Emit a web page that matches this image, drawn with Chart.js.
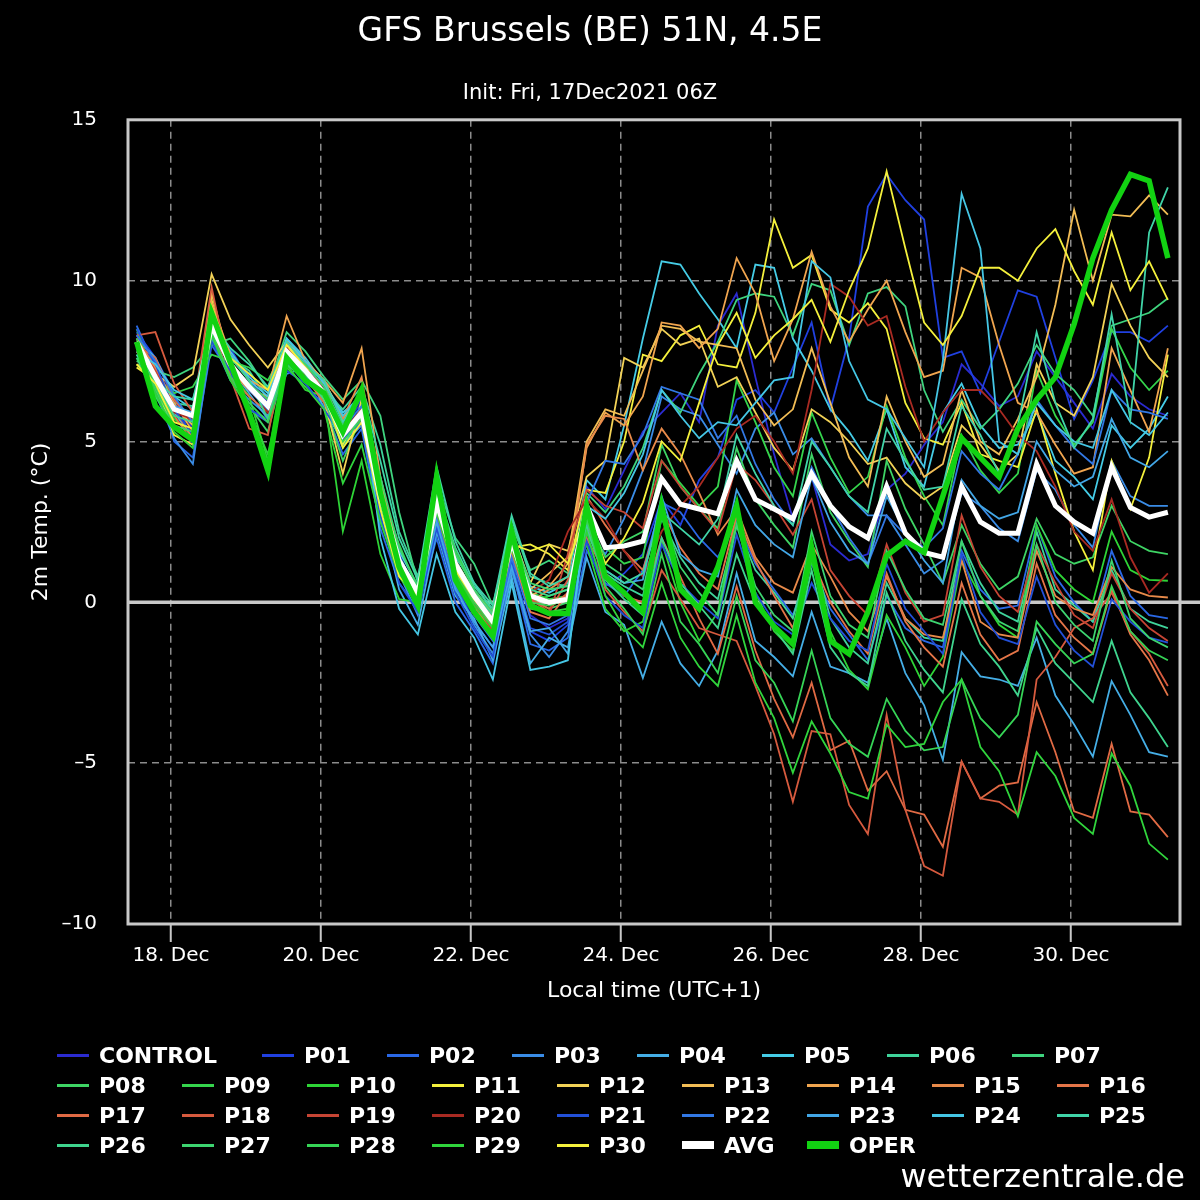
<!DOCTYPE html>
<html>
<head>
<meta charset="utf-8">
<title>GFS Brussels ensemble</title>
<script src="https://cdn.jsdelivr.net/npm/chart.js@4.4.0/dist/chart.umd.min.js"></script>
<style>
  body { margin: 0; background: #000; }
  #wrap { position: relative; width: 1200px; height: 1200px; background: #000; }
  #legend { position: absolute; left: 57px; top: 1040px; width: 1150px; display: flex; flex-wrap: wrap;
            font: bold 22px 'DejaVu Sans', sans-serif; color: #fff; }
  .item { display: flex; align-items: center; height: 30px; width: 125px; }
  .item .mark { width: 32px; height: 3px; margin-right: 10px; }
  #credit { position: absolute; right: 15px; top: 1157px; font: 32px 'DejaVu Sans', sans-serif; color: #fff; }
</style>
</head>
<body>
<div id="wrap">
  <canvas id="myChart" width="1200" height="1200"></canvas>
  <div id="legend"></div>
  <div id="credit">wetterzentrale.de</div>
</div>
<script>
// hours after 18 Dec 00:00 local time (UTC+1), 6-hourly steps
const validHours = [-11, -5, 1, 7, 13, 19, 25, 31, 37, 43, 49, 55, 61, 67, 73, 79, 85, 91, 97, 103,
  109, 115, 121, 127, 133, 139, 145, 151, 157, 163, 169, 175, 181, 187, 193, 199, 205, 211, 217, 223,
  229, 235, 241, 247, 253, 259, 265, 271, 277, 283, 289, 295, 301, 307, 313, 319];
const tickHours = [0, 48, 96, 144, 192, 240, 288];

const control = [8.3, 7.3, 6.3, 5.4, 8.2, 7.7, 7.1, 6.0, 7.6, 7.5, 6.4, 5.5, 6.2, 3.4, 1.2, 0.1, 2.9, 0.9, -0.2, -1.0, 1.6, -0.4, -0.8, -0.5,
  3.6, 2.9, 4.1, 5.3, 5.9, 6.5, 5.6, 8.6, 9.6, 7.0, 4.6, 2.6, 3.9, 1.8, 1.3, 1.5, 3.5, 4.0, 4.9, 5.6, 7.4, 6.8, 6.1, 6.4, 7.8, 7.0, 6.2, 5.4, 7.1, 6.4, 6.0, 5.8];
const p01 = [8.4, 7.6, 6.5, 4.9, 8.3, 7.9, 6.9, 6.2, 7.4, 7.0, 6.9, 5.6, 6.3, 3.9, 1.5, 0.2, 2.4, 0.6, -0.6, -1.4, 1.3, -0.9, -1.2, -0.7,
  2.0, 0.5, 0.9, 1.5, 3.2, 2.4, 3.8, 4.5, 6.3, 6.6, 5.9, 7.3, 8.7, 6.0, 8.2, 12.3, 13.3, 12.5, 11.9, 7.6, 7.8, 6.5, 8.1, 9.7, 9.5, 7.6, 5.7, 6.9, 8.4, 8.4, 8.1, 8.6];
const p02 = [8.6, 7.3, 5.0, 4.5, 8.0, 7.1, 6.0, 5.6, 7.5, 6.8, 6.1, 4.6, 5.4, 2.3, 0.6, -0.2, 2.0, 0.0, -0.9, -1.9, 1.1, -1.3, -1.5, -1.1,
  1.6, 0.6, 0.2, 1.0, 3.1, 2.8, 2.0, 1.4, 2.5, 1.2, 0.4, -0.4, 1.2, -0.2, -1.0, -1.8, 0.2, -0.8, -1.2, -1.4, 1.6, 0.4, -0.2, -0.1, 2.4, 0.8, 0.0, -0.6, 1.6, 0.2, -0.4, -0.5];
const p03 = [7.9, 6.5, 5.1, 4.3, 8.2, 6.9, 6.3, 5.8, 7.1, 7.3, 6.7, 4.9, 5.5, 2.6, 0.9, -0.4, 2.6, 0.5, -0.7, -1.6, 1.0, -1.0, -1.7, -0.9,
  2.2, 1.5, 2.6, 4.1, 6.4, 6.0, 5.8, 4.9, 4.0, 5.4, 5.9, 4.6, 5.1, 4.2, 3.3, 2.7, 2.7, 1.8, 0.9, 1.3, 3.4, 3.0, 2.3, 1.9, 4.1, 3.5, 2.4, 1.7, 4.4, 3.3, 3.0, 3.0];
const p04 = [8.0, 7.1, 5.9, 5.1, 8.6, 7.3, 6.5, 5.7, 8.0, 7.4, 6.0, 5.0, 5.6, 2.9, 0.4, -0.7, 2.2, 0.2, -0.5, -1.8, 0.8, -1.9, -1.1, -1.4,
  1.4, -0.3, -0.7, -2.35, -0.6, -1.9, -2.6, -1.5, 0.9, -1.2, -1.7, -2.3, -0.3, -2.0, -2.2, -2.5, -0.5, -2.2, -3.2, -4.9, -1.55, -2.3, -2.4, -2.6, -1.1, -2.9, -3.8, -4.8, -2.45, -3.5, -4.66, -4.8];
const p05 = [8.2, 7.6, 6.4, 6.0, 8.7, 7.8, 7.0, 6.5, 8.2, 7.6, 6.8, 5.9, 6.4, 3.8, 1.6, 0.5, 3.3, 1.4, 0.6, -0.3, 2.3, 0.5, 0.3, 0.6,
  3.8, 3.2, 5.5, 8.2, 10.6, 10.5, 9.6, 8.8, 7.9, 10.5, 10.4, 8.2, 7.2, 6.0, 5.3, 4.4, 6.0, 4.2, 3.6, 5.9, 6.8, 5.5, 4.8, 4.9, 5.9, 4.4, 3.9, 3.2, 5.5, 4.8, 5.4, 6.4];
const p06 = [7.7, 6.8, 6.2, 6.1, 8.9, 7.6, 7.2, 6.3, 7.9, 7.1, 6.6, 6.0, 6.7, 4.9, 2.2, 0.8, 3.5, 1.7, 0.5, -0.2, 2.6, 0.8, 0.6, 0.5,
  2.4, 0.9, 0.5, 0.2, 2.6, 1.4, 0.6, 0.1, 2.4, 1.0, 0.3, -0.5, 1.7, -0.5, -1.4, -1.9, 0.6, -0.5, -1.1, -1.2, 1.9, 0.6, -0.3, -0.6, 2.2, 0.4, -0.1, -0.6, 1.0, -0.2, -0.6, -0.8];
const p07 = [7.5, 7.2, 7.0, 7.3, 8.0, 8.2, 7.5, 6.6, 8.4, 7.8, 7.0, 6.3, 6.9, 5.8, 2.8, 0.6, 3.8, 2.0, 1.2, -0.1, 2.4, 1.0, 1.3, 0.9,
  3.4, 2.8, 3.6, 4.8, 6.6, 5.9, 7.1, 8.1, 9.4, 9.6, 9.5, 8.3, 9.9, 9.7, 8.0, 9.6, 9.8, 9.2, 6.6, 5.3, 6.3, 5.4, 6.0, 6.8, 8.0, 7.1, 6.6, 5.8, 8.6, 8.8, 9.0, 9.45];
const p08 = [8.1, 6.6, 5.4, 5.0, 9.3, 7.0, 6.1, 5.3, 7.6, 7.1, 6.2, 4.4, 5.8, 3.0, 1.0, 0.1, 3.0, 1.1, 0.0, -0.8, 1.9, 0.1, -0.2, 0.0,
  2.7, 1.4, 1.9, 2.2, 4.9, 3.6, 2.9, 2.3, 4.8, 3.2, 2.4, 1.7, 4.6, 2.8, 1.9, 1.1, 4.4, 2.9, 1.8, 0.6, 2.4, 1.2, 0.4, 0.8, 2.6, 1.5, 1.2, 1.4, 3.0, 1.9, 1.6, 1.5];
const p09 = [7.6, 7.0, 6.5, 6.7, 7.7, 7.5, 7.3, 6.9, 8.0, 7.3, 6.9, 5.1, 6.0, 3.5, 1.8, 0.4, 3.4, 1.6, 0.4, -0.4, 2.1, 0.3, 0.1, 0.2,
  2.9, 1.7, 1.2, 1.4, 4.4, 3.7, 3.0, 3.6, 6.9, 5.6, 4.2, 3.3, 5.9, 4.5, 3.4, 3.9, 6.1, 4.5, 3.3, 2.4, 5.2, 4.1, 3.4, 4.0, 7.2, 5.8, 4.9, 5.6, 8.5, 7.3, 6.6, 7.2];
const p10 = [8.5, 6.9, 5.7, 5.2, 8.8, 7.2, 6.4, 4.4, 7.4, 6.6, 6.4, 2.2, 4.4, 1.5, 0.1, 0.0, 2.9, 1.0, 0.1, -0.5, 2.0, 0.0, 0.2, 0.4,
  1.8, -0.2, -0.9, -0.6, 1.9, 0.0, -1.2, -0.3, 2.7, 0.3, -0.9, -1.5, 1.3, -0.9, -2.1, -2.7, -0.4, -1.4, -2.6, -1.7, 1.3, 0.2, -0.7, -1.1, 2.4, 1.0, 0.4, 0.0, 2.2, 1.0, 0.7, 0.67];
const p11 = [7.3, 6.9, 5.2, 4.9, 9.4, 7.3, 6.8, 6.0, 7.9, 7.4, 6.3, 4.9, 6.0, 3.1, 1.0, 0.2, 3.0, 1.0, -0.2, -0.9, 1.7, 1.8, 1.5, 1.0,
  3.5, 3.4, 5.0, 7.7, 7.5, 8.3, 8.6, 7.4, 7.3, 9.0, 11.9, 10.4, 10.8, 9.1, 8.7, 9.3, 8.5, 6.2, 5.1, 4.9, 6.2, 4.6, 4.4, 4.2, 6.0, 4.0, 2.2, 1.0, 4.4, 2.9, 4.5, 7.7];
const p12 = [7.4, 7.1, 6.7, 7.1, 10.2, 8.8, 8.0, 7.3, 8.1, 7.2, 6.3, 4.0, 6.3, 3.7, 1.2, 0.1, 3.2, 1.3, 0.3, -0.3, 2.2, 0.6, 1.8, 1.6,
  3.9, 4.4, 7.6, 7.3, 8.5, 8.0, 8.2, 6.7, 7.0, 5.9, 4.8, 4.1, 6.0, 5.6, 5.0, 4.3, 4.5, 3.7, 3.2, 3.6, 5.5, 4.9, 4.1, 4.6, 7.4, 6.2, 5.8, 7.0, 9.9, 8.6, 7.6, 7.0];
const p13 = [7.9, 7.2, 6.1, 5.5, 9.6, 7.4, 6.6, 6.4, 8.1, 7.5, 6.9, 5.7, 6.5, 3.2, 1.1, 0.4, 3.1, 1.2, 0.2, -0.7, 1.8, 0.4, 0.9, 1.4,
  5.0, 6.0, 5.8, 7.2, 8.6, 8.5, 8.1, 8.0, 7.9, 6.3, 5.5, 6.0, 7.9, 6.2, 4.5, 3.6, 6.4, 5.0, 3.9, 4.3, 6.6, 5.0, 4.6, 5.7, 7.0, 9.25, 12.2, 10.0, 12.05, 12.0, 12.65, 12.05];
const p14 = [8.0, 7.3, 6.2, 5.3, 9.3, 7.7, 6.9, 6.6, 8.9, 7.5, 6.9, 6.2, 7.9, 3.9, 1.4, 0.3, 3.1, 1.3, 0.3, -0.4, 2.1, 0.2, 0.5, 1.2,
  4.8, 5.9, 5.5, 6.4, 8.7, 8.6, 7.9, 8.5, 10.7, 9.6, 7.5, 8.8, 10.9, 9.2, 8.1, 9.1, 10.0, 8.4, 7.0, 7.2, 10.4, 10.1, 8.0, 6.2, 5.9, 4.9, 4.0, 4.2, 7.9, 6.6, 5.3, 7.9];
const p15 = [8.2, 7.3, 6.0, 5.1, 9.0, 7.2, 6.6, 6.0, 7.7, 7.1, 6.8, 5.7, 7.0, 3.5, 1.3, 0.2, 3.2, 1.1, 0.1, -0.8, 1.6, 0.0, 0.4, 0.8,
  4.9, 5.8, 5.7, 4.1, 5.4, 4.6, 3.4, 2.1, 2.9, 1.4, 0.6, 0.3, 1.8, 0.8, -0.3, -0.9, 0.8, -0.5, -1.0, -1.1, 1.3, -0.6, -1.0, -1.1, 1.6, 0.2, -0.2, -0.4, 1.1, 0.4, 0.2, 0.15];
const p16 = [7.8, 7.0, 5.8, 5.0, 8.5, 7.0, 6.4, 5.9, 7.7, 7.0, 6.2, 5.1, 5.7, 3.0, 1.0, 0.0, 2.7, 0.8, -0.1, -0.9, 1.5, -0.3, -0.5, 0.3,
  3.3, 2.4, 1.6, 1.0, 2.9, 1.7, 0.9, 0.4, 2.7, 1.3, 0.2, -0.8, 1.4, 0.0, -0.9, -1.6, 0.9, -0.6, -1.4, -2.0, 0.6, -1.0, -1.8, -1.5, 1.2, -0.4, -1.1, -1.6, 0.4, -1.0, -1.8, -2.9];
const p17 = [8.0, 7.6, 6.3, 5.6, 8.8, 7.5, 6.6, 6.2, 7.6, 7.2, 6.6, 5.3, 6.0, 3.3, 1.2, 0.3, 3.0, 1.1, 0.1, -0.6, 1.8, 0.1, -0.2, 0.3,
  2.0, 0.9, 0.2, 0.0, 2.0, 0.8, -0.5, -1.6, 0.5, -1.5, -3.0, -4.2, -2.5, -4.6, -4.3, -5.85, -5.25, -6.45, -6.6, -7.6, -4.95, -6.1, -5.7, -5.6, -3.1, -4.66, -6.5, -6.7, -4.4, -6.5, -6.6, -7.3];
const p18 = [8.3, 8.4, 6.8, 5.9, 9.8, 7.0, 5.4, 5.2, 8.0, 6.9, 6.5, 5.2, 5.8, 3.1, 1.1, 0.2, 2.9, 0.9, 0.0, -0.7, 1.7, 0.1, -0.3, 0.7,
  2.6, 0.4, -0.3, -0.9, 1.0, 0.1, -0.8, -1.0, -1.2, -2.6, -4.1, -6.2, -4.0, -4.1, -6.3, -7.2, -3.5, -6.45, -8.2, -8.5, -4.95, -6.1, -6.2, -6.6, -2.4, -1.7, -0.8, -0.5, 0.3, -0.9, -1.6, -2.6];
const p19 = [8.1, 7.2, 6.1, 5.6, 8.3, 7.4, 6.8, 6.3, 7.9, 7.3, 6.6, 5.4, 5.9, 3.2, 1.2, 0.2, 2.8, 1.0, 0.0, -0.9, 1.8, 0.0, -0.4, 1.5,
  3.5, 3.0, 2.8, 2.3, 4.4, 3.6, 2.9, 2.2, 4.3, 3.8, 3.0, 2.1, 3.2, 1.0, 0.2, -0.4, 1.8, 0.3, -0.6, -0.4, 2.7, 1.1, 0.2, -0.3, 1.8, 0.6, -0.4, -0.8, 0.9, -0.2, -0.8, -1.2];
const p20 = [8.2, 7.0, 5.9, 5.7, 9.1, 7.5, 6.7, 5.9, 7.9, 7.1, 6.5, 5.3, 6.0, 3.3, 1.3, 0.3, 3.1, 1.2, 0.3, -0.5, 1.9, 0.3, 0.7, 2.2,
  3.2, 2.6, 1.6, 0.8, 2.2, 3.0, 3.6, 4.5, 5.4, 5.8, 5.0, 4.0, 6.6, 9.9, 9.5, 8.6, 8.9, 6.7, 5.0, 5.9, 6.6, 6.6, 6.0, 5.2, 4.7, 3.6, 2.2, 1.6, 3.2, 1.4, 0.3, 0.9];
const p21 = [8.5, 7.4, 6.0, 5.2, 8.1, 7.2, 6.0, 5.7, 7.2, 6.8, 6.0, 5.1, 5.6, 2.7, 0.6, -0.3, 2.3, 0.3, -0.8, -1.7, 1.2, -0.8, -1.0, -0.6,
  1.9, 0.2, -0.4, -0.8, 1.8, 0.6, 0.0, -0.5, 2.1, 0.3, -0.6, -1.0, 0.6, -0.5, -1.2, -1.5, 1.2, -0.2, -0.9, -1.6, 1.5, -0.3, -1.1, -1.3, 0.8, -0.7, -1.5, -2.0, 0.1, -0.6, -1.1, -1.25];
const p22 = [8.3, 7.5, 6.4, 5.6, 8.4, 7.5, 6.6, 6.0, 7.5, 7.0, 6.6, 5.4, 6.1, 3.2, 1.0, 0.0, 2.6, 0.6, -0.4, -1.2, 1.4, -0.5, -0.7, -0.4,
  3.1, 4.4, 4.3, 5.2, 6.7, 6.5, 6.3, 5.1, 5.8, 4.3, 3.2, 2.4, 4.2, 3.0, 2.0, 1.2, 2.7, 2.1, 1.7, 2.3, 4.7, 4.0, 3.5, 4.6, 6.3, 5.5, 4.8, 4.3, 6.6, 6.0, 5.9, 5.7];
const p23 = [7.9, 7.1, 6.1, 5.9, 8.5, 7.4, 6.8, 6.1, 7.8, 7.2, 6.4, 5.2, 5.8, 3.0, 0.9, -0.1, 2.5, 0.4, -0.6, -1.4, 1.1, -0.9, -0.8, -1.6,
  2.5, 1.0, 0.6, 0.7, 3.3, 1.5, 1.0, 0.8, 3.5, 2.4, 1.8, 1.4, 3.9, 2.5, 1.6, 1.2, 3.3, 2.2, 1.3, 0.6, 3.8, 3.0, 2.6, 2.8, 5.0, 4.1, 3.6, 3.9, 5.7, 4.5, 4.2, 4.7];
const p24 = [7.8, 7.4, 6.6, 6.3, 8.3, 7.7, 6.9, 6.4, 8.2, 7.5, 6.8, 5.8, 6.5, 2.0, -0.2, -1.0, 1.5, -0.3, -1.1, -2.4, 0.6, -2.1, -2.0, -1.8,
  3.0, 2.6, 3.4, 4.6, 6.6, 5.8, 5.1, 5.6, 5.5, 6.2, 6.9, 7.0, 10.6, 10.1, 7.5, 6.3, 6.0, 5.1, 4.2, 7.5, 12.7, 11.0, 5.0, 4.6, 6.2, 5.5, 5.0, 4.8, 6.6, 5.6, 5.2, 5.9];
const p25 = [7.7, 6.9, 6.4, 6.3, 8.7, 7.9, 7.4, 6.7, 8.1, 7.4, 6.9, 5.6, 6.6, 4.4, 2.0, 0.7, 4.2, 1.9, 0.6, -0.1, 2.7, 0.9, 0.5, 0.8,
  2.2, 1.0, 0.6, 0.9, 2.8, 2.3, 1.8, 2.6, 5.2, 4.0, 3.0, 2.4, 5.0, 4.2, 3.3, 2.8, 5.4, 4.4, 3.5, 3.6, 6.1, 5.2, 4.0, 5.5, 8.4, 6.2, 4.8, 5.7, 8.95, 5.7, 11.5, 12.9];
const p26 = [8.0, 6.8, 5.8, 5.6, 8.6, 7.6, 6.9, 5.7, 7.6, 7.1, 6.3, 4.8, 5.9, 3.6, 1.4, 0.4, 3.3, 1.3, 0.3, -0.4, 2.0, 0.4, 0.2, 0.4,
  2.3, 0.7, 0.1, -0.4, 2.0, 0.6, -0.1, -0.8, 1.5, 0.0, -0.8, -1.6, 1.0, -1.4, -2.2, -2.6, 0.3, -1.2, -2.1, -2.8, 0.1, -1.3, -2.0, -2.9, -0.8, -1.9, -2.5, -3.1, -1.2, -2.8, -3.6, -4.5];
const p27 = [7.6, 6.4, 5.5, 5.3, 8.9, 7.3, 6.8, 6.3, 7.8, 7.4, 6.7, 5.5, 6.4, 3.9, 1.7, 0.5, 3.6, 1.5, 0.4, -0.3, 2.1, 0.6, 0.4, 0.5,
  2.5, 1.2, 0.8, 0.4, 2.8, 1.1, 0.3, -0.4, 2.4, 0.5, -0.4, -0.9, 2.2, 0.2, -0.7, -1.1, 1.6, 0.4, -0.5, -0.7, 1.9, 0.2, -0.6, -0.9, 1.8, 0.0, -0.7, -1.2, 1.3, -0.5, -1.1, -1.4];
const p28 = [8.2, 6.7, 5.5, 5.0, 8.4, 7.0, 6.2, 5.6, 7.4, 6.9, 6.4, 5.0, 5.7, 3.1, 1.2, 0.1, 3.0, 1.0, 0.0, -0.7, 1.8, 0.0, -0.1, 0.1,
  2.6, 0.5, -0.2, -1.0, 1.5, -0.6, -1.3, -2.2, 0.2, -1.8, -2.5, -3.7, -1.5, -3.6, -4.4, -4.8, -3.0, -4.0, -4.6, -4.5, -2.4, -3.6, -4.2, -3.5, -0.6, -1.3, -1.9, -1.6, 0.5, -0.9, -1.5, -1.8];
const p29 = [8.0, 6.5, 5.3, 4.8, 8.3, 6.9, 6.0, 4.6, 7.3, 6.7, 6.0, 3.7, 4.9, 2.5, 0.8, 0.0, 2.8, 0.9, -0.1, -0.8, 1.7, -0.2, -0.3, -0.2,
  2.2, 0.2, -0.8, -1.4, 0.6, -1.1, -2.0, -2.6, -0.4, -2.5, -3.6, -5.3, -3.7, -4.7, -5.9, -6.1, -3.8, -4.5, -4.4, -3.1, -2.4, -4.5, -5.25, -6.65, -4.66, -5.4, -6.7, -7.2, -4.7, -5.7, -7.5, -8.0];
const p30 = [7.4, 6.8, 5.6, 5.4, 9.2, 7.6, 7.1, 6.6, 8.0, 7.3, 6.5, 4.8, 5.6, 2.9, 0.8, 0.2, 3.0, 1.0, 0.1, -0.6, 1.8, 1.6, 1.8, 1.2,
  2.8, 1.2, 2.0, 3.1, 5.0, 4.4, 6.2, 8.0, 9.0, 7.6, 8.3, 8.8, 9.4, 8.1, 9.7, 11.0, 13.4, 11.0, 8.7, 8.0, 8.9, 10.4, 10.4, 10.0, 11.0, 11.6, 10.3, 9.25, 11.5, 9.7, 10.6, 9.4];
const avg = [8.1, 7.0, 6.0, 5.8, 8.6, 7.4, 6.7, 6.1, 7.8, 7.2, 6.5, 5.2, 5.9, 3.3, 1.3, 0.3, 3.1, 1.2, 0.2, -0.6, 1.9, 0.2, 0.0, 0.1,
  3.0, 1.7, 1.75, 1.9, 3.85, 3.05, 2.9, 2.75, 4.4, 3.2, 2.9, 2.6, 4.0, 3.0, 2.35, 2.0, 3.6, 2.15, 1.55, 1.4, 3.6, 2.5, 2.15, 2.15, 4.3, 3.0, 2.5, 2.15, 4.2, 2.95, 2.65, 2.8];
const oper = [8.1, 6.1, 5.45, 5.05, 9.0, 7.45, 5.9, 4.1, 7.6, 6.9, 6.5, 5.3, 6.6, 3.4, 1.1, -0.1, 3.9, 0.7, -0.3, -1.05, 2.2, -0.1, -0.35, -0.35,
  3.0, 0.8, 0.3, -0.3, 3.0, 0.4, -0.2, 1.1, 3.0, 0.0, -0.75, -1.3, 1.7, -1.2, -1.6, -0.3, 1.45, 1.9, 1.55, 3.3, 5.1, 4.5, 3.9, 5.4, 6.3, 7.0, 8.65, 10.7, 12.2, 13.3, 13.1, 10.7];

const memberNames = ['CONTROL', 'P01', 'P02', 'P03', 'P04', 'P05', 'P06', 'P07', 'P08', 'P09', 'P10',
  'P11', 'P12', 'P13', 'P14', 'P15', 'P16', 'P17', 'P18', 'P19', 'P20',
  'P21', 'P22', 'P23', 'P24', 'P25', 'P26', 'P27', 'P28', 'P29', 'P30'];
const memberValues = [control, p01, p02, p03, p04, p05, p06, p07, p08, p09, p10,
  p11, p12, p13, p14, p15, p16, p17, p18, p19, p20,
  p21, p22, p23, p24, p25, p26, p27, p28, p29, p30];
const memberColors = ['#2b2bd0', '#2040e0', '#2a68e6', '#3a8ce6', '#45aee6', '#45cce6', '#3fd39a', '#3fd47e', '#3ed464', '#35d44c', '#2ed436',
  '#f4f03c', '#f2d257', '#f2bd55', '#f0a54f', '#e88a4a', '#e47548', '#e06a44', '#d65a3e', '#c64534', '#a82a22',
  '#2250d8', '#3278e4', '#42a6e6', '#45c6e4', '#40d4a8', '#3fd48e', '#3dd470', '#36d456', '#30d43c', '#f4f03c'];

const font = 'DejaVu Sans';

function points(values) {
    return validHours.map((h, i) => ({ x: h, y: values[i] }));
}

let datasets = [];
for (let i = 0; i < memberNames.length; i++) {
    datasets.push({
        label: memberNames[i],
        data: points(memberValues[i]),
        borderColor: memberColors[i],
        backgroundColor: memberColors[i],
        borderWidth: 1.8,
        pointRadius: 0,
        order: 40 - i,
    });
}
datasets.push({ label: 'AVG', data: points(avg), borderColor: '#ffffff', backgroundColor: '#ffffff', borderWidth: 5, pointRadius: 0, order: 1 });
datasets.push({ label: 'OPER', data: points(oper), borderColor: '#12d212', backgroundColor: '#12d212', borderWidth: 5.5, pointRadius: 0, order: 0 });

// zero line under the data, grey frame on top
const framePlugin = {
    id: 'frame',
    beforeDatasetsDraw(chart) {
        const { ctx, chartArea: a, scales: { y } } = chart;
        const y0 = y.getPixelForValue(0);
        ctx.save();
        ctx.strokeStyle = '#c8c8c8';
        ctx.lineWidth = 3.5;
        ctx.beginPath();
        ctx.moveTo(a.left, y0);
        ctx.lineTo(chart.width, y0);
        ctx.stroke();
        ctx.restore();
    },
    afterDraw(chart) {
        const { ctx, chartArea: a } = chart;
        ctx.save();
        ctx.strokeStyle = '#c8c8c8';
        ctx.lineWidth = 3;
        ctx.strokeRect(a.left, a.top, a.right - a.left, a.bottom - a.top);
        ctx.restore();
    }
};

const chart = new Chart(document.getElementById('myChart'), {
    type: 'line',
    data: { datasets: datasets },
    options: {
        responsive: false,
        animation: false,
        devicePixelRatio: 1,
        layout: { padding: { left: 0, right: 20, top: 0, bottom: 190 } },
        plugins: {
            legend: { display: false },
            tooltip: { enabled: false },
            title: {
                display: true,
                text: 'GFS Brussels (BE) 51N, 4.5E',
                color: '#ffffff',
                font: { family: font, size: 33, weight: 'normal' },
                padding: { top: 13, bottom: 21 }
            },
            subtitle: {
                display: true,
                text: 'Init: Fri, 17Dec2021 06Z',
                color: '#ffffff',
                font: { family: font, size: 21 },
                padding: { top: 7, bottom: 14 }
            }
        },
        scales: {
            x: {
                type: 'linear',
                min: -13.76,
                max: 322.88,
                afterBuildTicks: (scale) => { scale.ticks = tickHours.map(v => ({ value: v })); },
                afterFit: (scale) => { scale.height = 86; },
                ticks: {
                    color: '#ffffff',
                    font: { family: font, size: 20 },
                    padding: 2,
                    maxRotation: 0,
                    autoSkip: false,
                    callback: (v) => (18 + v / 24) + '. Dec'
                },
                grid: { color: '#8c8c8c', lineWidth: 1.5, tickLength: 18, tickColor: '#c8c8c8', tickWidth: 2 },
                border: { display: false, dash: [7, 5] },
                title: {
                    display: true,
                    text: 'Local time (UTC+1)',
                    color: '#ffffff',
                    font: { family: font, size: 22 },
                    padding: { top: 0, bottom: 6 }
                }
            },
            y: {
                min: -10,
                max: 15,
                afterFit: (scale) => { scale.width = 128; },
                ticks: {
                    stepSize: 5,
                    color: '#ffffff',
                    font: { family: font, size: 20 },
                    padding: 31,
                    callback: (v) => v < 0 ? '\u2013' + Math.abs(v) : String(v)
                },
                grid: { color: '#8c8c8c', lineWidth: 1.5, drawTicks: false },
                border: { display: false, dash: [7, 5] },
                title: {
                    display: true,
                    text: '2m Temp. (\u00b0C)',
                    color: '#ffffff',
                    font: { family: font, size: 22 },
                    padding: { top: 28, bottom: 0 }
                }
            }
        }
    },
    plugins: [framePlugin]
});

// legend as html, rows wrap like the original
function buildLegend() {
    let box = document.getElementById('legend');
    for (let ds of chart.data.datasets) {
        let item = document.createElement('div');
        item.className = 'item';
        if (ds.label === 'CONTROL') item.style.width = '205px';
        let mark = document.createElement('span');
        mark.className = 'mark';
        mark.style.background = ds.borderColor;
        if (ds.borderWidth > 3) mark.style.height = '8px';
        let text = document.createElement('span');
        text.textContent = ds.label;
        item.appendChild(mark);
        item.appendChild(text);
        box.appendChild(item);
    }
}
buildLegend();
</script>
</body>
</html>
